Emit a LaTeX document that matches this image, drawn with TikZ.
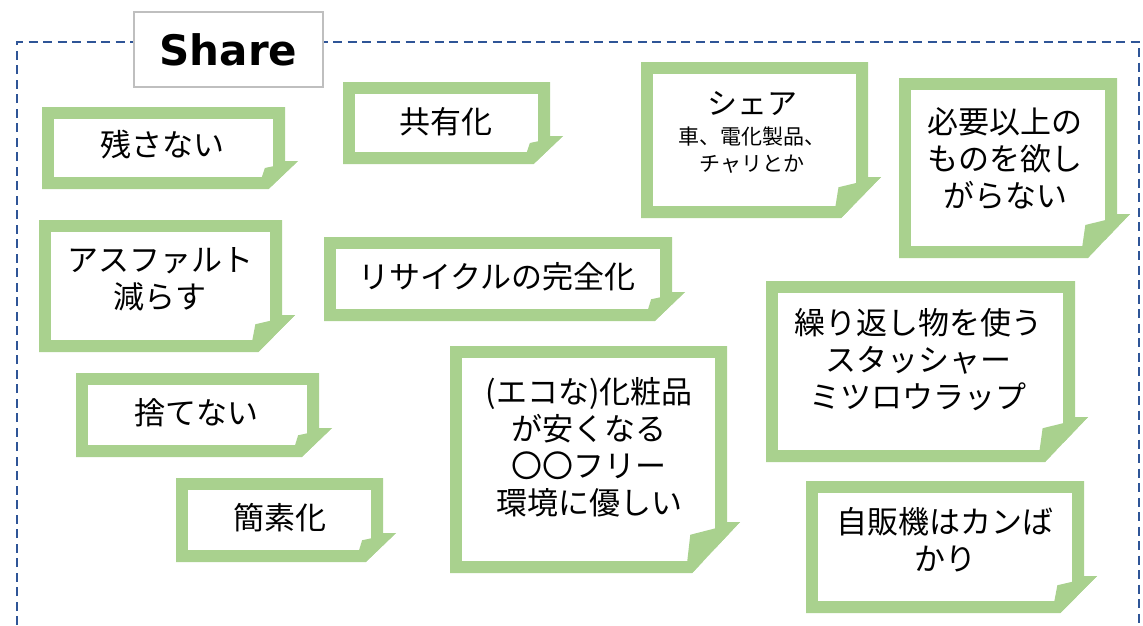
\documentclass[tikz,border=0pt]{standalone}
\usepackage{fontspec}
\newfontfamily\jpfont{Noto Sans CJK JP}
\newfontfamily\sharefont{DejaVu Sans}
\definecolor{notegreen}{RGB}{169,209,142}
\definecolor{frameblue}{RGB}{47,85,151}
\definecolor{sharegray}{RGB}{191,191,191}
\tikzset{
  notetext/.style={font=\jpfont\fontsize{31}{37}\selectfont, align=center, inner sep=0pt},
  frameline/.style={draw=frameblue, line width=2.6pt, dash pattern=on 9pt off 5.5pt},
  sharebox/.style={draw=sharegray, line width=1.2pt, fill=white, minimum width=189pt, minimum height=75pt, inner sep=0pt, font=\sharefont\bfseries\fontsize{42}{48}\selectfont}
}
% #1 name, #2 x0, #3 y0, #4 x1, #5 y1, #6 fold size, #7 cx, #8 cy, #9 text
\newcommand\stickynote[9]{%
  \fill[notegreen] (#2,#3) -- (#4,#3) -- (#4,{#5-#6}) -- ({#4+13},{#5-#6}) -- ({#4-0.8*#6+6},#5) -- (#2,#5) -- cycle;
  \fill[white] ({#2+12},{#3+12}) rectangle ({#4-12},{#5-12});
  \fill[notegreen] ({#4+13},{#5-#6}) -- ({#4-0.72*#6},{#5-0.75*#6}) -- ({#4-0.72*#6-3},{#5-12}) -- ({#4-0.8*#6+6},#5) -- cycle;
  \node[notetext] (#1) at (#7,#8) {#9};
}
\begin{document}
\begin{tikzpicture}[x=1pt,y=-1pt]
\useasboundingbox (0,0) rectangle (1143,625);
% dashed frame
\draw[frameline] (17,625) -- (17,42) -- (1139,42) -- (1139,625);
% title
\node[sharebox] (share) at (228.5,49.5) {Share};
% notes
\stickynote{n1}{42}{107}{285}{189}{28}{162}{145}{残さない}
\stickynote{n2}{343}{82}{550}{164}{28}{446}{122}{共有化}
\stickynote{n4}{899}{78}{1117}{258}{44}{1005}{159}{必要以上の\\ものを欲し\\がらない}
\stickynote{n5}{39}{220}{282}{352}{37}{160}{279}{アスファルト\\減らす}
\stickynote{n6}{324}{237}{672}{321}{29}{497}{277}{リサイクルの完全化}
\stickynote{n7}{766}{281}{1075}{462}{45}{918}{360}{繰り返し物を使う\\スタッシャー\\ミツロウラップ}
\stickynote{n8}{76}{373}{319}{457}{29}{196}{413}{捨てない}
\stickynote{n9}{176}{478}{383}{562}{29}{280}{518}{簡素化}
\stickynote{n10}{450}{346}{727}{573}{51}{589}{447}{(エコな)化粧品\\が安くなる\\〇〇フリー\\環境に優しい}
\stickynote{n11}{806}{481}{1084}{613}{37}{945}{540}{自販機はカンば\\かり}
\stickynote{n3}{641}{62}{868}{218}{41}{752}{132}{{\fontsize{30}{30}\selectfont シェア}\\[-7pt]{\fontsize{21}{27}\selectfont 車、電化製品、}\\[-10pt]{\fontsize{21}{27}\selectfont チャリとか}}
\end{tikzpicture}
\end{document}
